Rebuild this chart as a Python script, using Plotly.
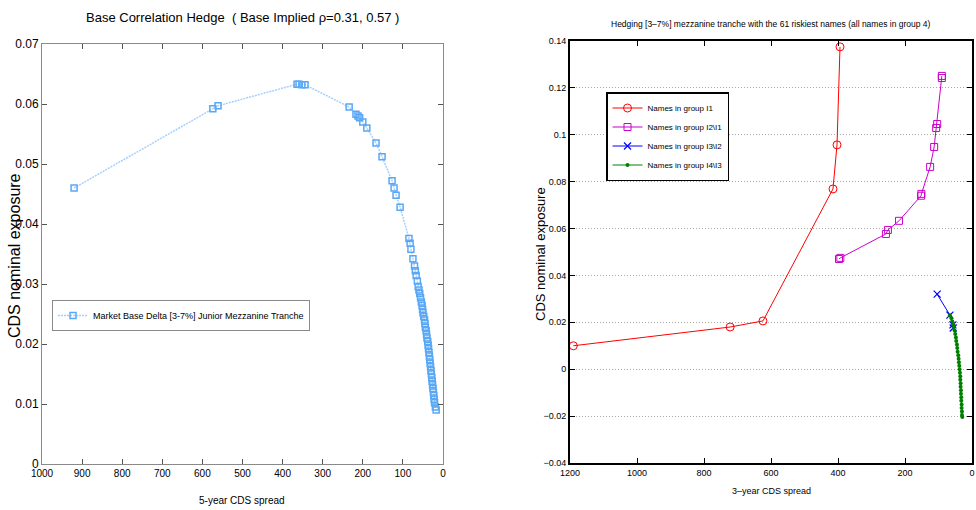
import plotly.graph_objects as go

# ---------------- Left chart data ----------------
left_spread = [920, 574, 561, 364, 359, 352, 344, 234, 217, 212, 208, 200, 190, 167, 152,
               127, 122, 117, 107, 85, 82, 80, 75, 71, 69, 67, 64, 62, 60, 58, 56, 54, 52,
               51, 50, 48, 46, 45, 44, 42, 41, 40, 38, 37, 36, 35, 34, 33, 32, 31, 30, 29,
               28, 27, 26, 25, 24, 23, 22, 21, 19, 17]
left_exposure = [0.0460, 0.0592, 0.0597, 0.0633, 0.0633, 0.0632, 0.0632, 0.0595, 0.0583,
                 0.0580, 0.0577, 0.0570, 0.0560, 0.0535, 0.0512, 0.0472, 0.0460, 0.0448,
                 0.0428, 0.0376, 0.0368, 0.0358, 0.0342, 0.0330, 0.0322, 0.0314, 0.0305,
                 0.0296, 0.0290, 0.0284, 0.0277, 0.0270, 0.0264, 0.0258, 0.0252, 0.0246,
                 0.0240, 0.0234, 0.0228, 0.0222, 0.0216, 0.0210, 0.0204, 0.0198, 0.0192,
                 0.0186, 0.0180, 0.0174, 0.0168, 0.0162, 0.0156, 0.0150, 0.0144, 0.0138,
                 0.0132, 0.0126, 0.0120, 0.0114, 0.0108, 0.0102, 0.0095, 0.0090]
left_x_ticks = [0, 100, 200, 300, 400, 500, 600, 700, 800, 900, 1000]
left_y_ticks = [0, 0.01, 0.02, 0.03, 0.04, 0.05, 0.06, 0.07]
left_y_ticktext = ["0", "0.01", "0.02", "0.03", "0.04", "0.05", "0.06", "0.07"]

# ---------------- Right chart data ----------------
g1_spread = [1190, 722, 624, 415, 403, 394]
g1_exposure = [0.0100, 0.0180, 0.0206, 0.0769, 0.0957, 0.1375]

g2_spread = [397, 393, 257, 251, 218, 152, 151, 125, 113, 107, 104, 90, 90]
g2_exposure = [0.0470, 0.0475, 0.0577, 0.0594, 0.0633, 0.0740, 0.0748, 0.0863, 0.0948,
               0.1029, 0.1046, 0.1242, 0.1251]

g3_spread = [104, 66, 57, 56]
g3_exposure = [0.0320, 0.0231, 0.0189, 0.0176]

g4_spread = [66, 62, 59, 56, 54, 52, 50, 48, 47, 45, 44, 43, 41, 40, 39, 38, 37, 36, 35,
             35, 34, 34, 33, 33, 32, 32, 31, 31, 30, 30, 29]
g4_exposure = [0.0230, 0.0218, 0.0205, 0.0192, 0.0180, 0.0165, 0.0150, 0.0135, 0.0120,
               0.0105, 0.0090, 0.0075, 0.0060, 0.0045, 0.0030, 0.0015, 0.0000, -0.0015,
               -0.0030, -0.0045, -0.0060, -0.0075, -0.0090, -0.0105, -0.0120, -0.0135,
               -0.0150, -0.0165, -0.0180, -0.0195, -0.0204]

right_x_ticks = [0, 200, 400, 600, 800, 1000, 1200]
right_y_ticks = [-0.04, -0.02, 0, 0.02, 0.04, 0.06, 0.08, 0.10, 0.12, 0.14]
right_y_ticktext = ["\u22120.04", "\u22120.02", "0", "0.02", "0.04", "0.06", "0.08",
                    "0.1", "0.12", "0.14"]

FONT = "Liberation Sans, Arial, Helvetica, sans-serif"

fig = go.Figure()

fig.add_trace(go.Scatter(
    x=left_spread, y=left_exposure, mode="lines+markers",
    name="Market Base Delta [3-7%] Junior Mezzanine Tranche", showlegend=True,
    line=dict(color="#a6cfff", width=1.5, dash="2px,1px"),
    marker=dict(symbol="square-open", size=6, color="#5aa8f5", line=dict(width=1.5)),
    xaxis="x", yaxis="y", legend="legend"))

fig.add_trace(go.Scatter(
    x=g1_spread, y=g1_exposure, mode="lines+markers", name="Names in group I1",
    line=dict(color="#ff0000", width=1),
    marker=dict(symbol="circle-open", size=8, color="#ff0000", line=dict(width=1)),
    xaxis="x2", yaxis="y2", legend="legend2"))
fig.add_trace(go.Scatter(
    x=g2_spread, y=g2_exposure, mode="lines+markers", name="Names in group I2\\I1",
    line=dict(color="#cc00cc", width=1),
    marker=dict(symbol="square-open", size=7, color="#cc00cc", line=dict(width=1)),
    xaxis="x2", yaxis="y2", legend="legend2"))
fig.add_trace(go.Scatter(
    x=g3_spread, y=g3_exposure, mode="lines+markers", name="Names in group I3\\I2",
    line=dict(color="#0000ff", width=1),
    marker=dict(symbol="x-thin-open", size=7, color="#0000ff", line=dict(width=1.2)),
    xaxis="x2", yaxis="y2", legend="legend2"))
fig.add_trace(go.Scatter(
    x=g4_spread, y=g4_exposure, mode="lines+markers", name="Names in group I4\\I3",
    line=dict(color="#008000", width=1),
    marker=dict(symbol="circle", size=4, color="#008000"),
    xaxis="x2", yaxis="y2", legend="legend2"))

W, H = 976, 510


def px_x(p):
    return p / W


def px_y(p):
    return (H - p) / H


def label(text, x, y, size, angle=0):
    return dict(text=text, x=px_x(x), y=px_y(y), xref="paper", yref="paper",
                xanchor="center", yanchor="middle", showarrow=False,
                textangle=angle, font=dict(size=size))


fig.update_layout(
    width=W, height=H, autosize=False, showlegend=True,
    margin=dict(l=0, r=0, t=0, b=0, pad=0),
    paper_bgcolor="white", plot_bgcolor="white",
    font=dict(family=FONT, color="#000000"),
    xaxis=dict(domain=[px_x(42), px_x(443)], range=[1000, 0], anchor="y", automargin=False,
               tickvals=left_x_ticks, ticks="inside", ticklen=5, tickcolor="#555555",
               showline=True, linecolor="#8a8a8a", linewidth=1, mirror="ticks",
               showgrid=False, zeroline=False, tickfont=dict(size=10)),
    yaxis=dict(domain=[px_y(464), px_y(44)], range=[0, 0.07], anchor="x", automargin=False,
               tickvals=left_y_ticks, ticktext=left_y_ticktext, ticks="inside", ticklen=5,
               tickcolor="#555555", showline=True, linecolor="#8a8a8a", linewidth=1,
               mirror="ticks", showgrid=False, zeroline=False, tickfont=dict(size=12)),
    xaxis2=dict(domain=[px_x(570), px_x(972)], range=[1200, 0], anchor="y2",
                automargin=False,
                tickvals=right_x_ticks, ticks="inside", ticklen=5, tickcolor="#000000",
                showline=True, linecolor="#000000", linewidth=2, mirror="ticks",
                showgrid=False, zeroline=False, tickfont=dict(size=9)),
    yaxis2=dict(domain=[px_y(463), px_y(41)], range=[-0.04, 0.14], anchor="x2",
                automargin=False,
                tickvals=right_y_ticks, ticktext=right_y_ticktext, ticks="inside",
                ticklen=5, tickcolor="#000000", showline=True, linecolor="#000000",
                linewidth=2, mirror="ticks", showgrid=True, gridcolor="#a8a8a8",
                griddash="1px,2px", gridwidth=1, zeroline=False,
                tickfont=dict(size=9)),
    legend=dict(x=px_x(52), y=px_y(300), xanchor="left", yanchor="top",
                bgcolor="white", bordercolor="#8a8a8a", borderwidth=1,
                font=dict(size=9)),
    legend2=dict(x=px_x(606), y=px_y(92), xanchor="left", yanchor="top",
                 bgcolor="white", bordercolor="#000000", borderwidth=1.5,
                 font=dict(size=8), tracegroupgap=0),
    annotations=[
        label("Base Correlation Hedge  ( Base Implied \u03c1=0.31, 0.57 )", 242, 18, 13),
        label("5-year CDS spread", 242, 500, 10),
        label("CDS nominal exposure", 14, 256, 16, -90),
        label("Hedging [3\u20137%] mezzanine tranche with the 61 riskiest names "
              "(all names in group 4)", 771, 24, 8.5),
        label("3\u2013year CDS spread", 771, 491, 9),
        label("CDS nominal exposure", 540, 254, 13, -90),
    ],
)

fig.write_html("out.html",
               config={"displayModeBar": False},
               post_script="document.body.style.margin='0';"
                           "document.body.style.padding='0';")
